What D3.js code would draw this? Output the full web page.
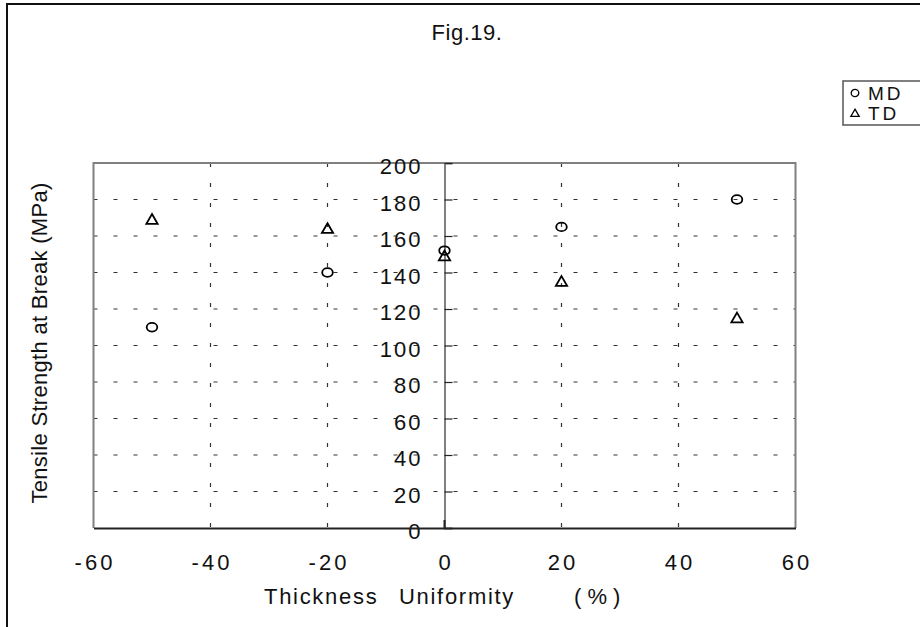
<!DOCTYPE html>
<html>
<head>
<meta charset="utf-8">
<script src="https://cdn.jsdelivr.net/npm/d3@7"></script>
<style>
  html, body { margin: 0; padding: 0; background: #fff; }
  svg { display: block; font-family: "Liberation Sans", Arial, sans-serif; }
</style>
</head>
<body>
<svg id="chart" width="920" height="627"></svg>
<script>
// Thickness uniformity (%) vs tensile strength at break (MPa)
const thickness = [-50, -20, 0, 20, 50];
const mdStrength = [110, 140, 152, 165, 180];
const tdStrength = [169, 164, 149, 135, 115];
const xTicks = [-60, -40, -20, 0, 20, 40, 60];
const yTicks = [0, 20, 40, 60, 80, 100, 120, 140, 160, 180, 200];
const seriesNames = ["MD", "TD"];

const svg = d3.select("#chart");
const W = 920, H = 627;
const plot = { left: 93.5, right: 795.5, top: 163, bottom: 528 };

const x = d3.scaleLinear().domain([-60, 60]).range([plot.left, plot.right]);
const y = d3.scaleLinear().domain([0, 200]).range([plot.bottom, plot.top]);

// outer frame
svg.append("rect")
  .attr("x", 7).attr("y", 4).attr("width", W + 20).attr("height", H + 20)
  .attr("fill", "none").attr("stroke", "#111").attr("stroke-width", 2);

// title
svg.append("text")
  .attr("x", 467).attr("y", 40)
  .attr("text-anchor", "middle")
  .attr("font-size", 22).attr("letter-spacing", 0.5)
  .attr("fill", "#111")
  .text("Fig.19.");

// dashed grid
const g = svg.append("g");
g.selectAll("line.hgrid")
  .data(yTicks.filter(d => d > 0 && d < 200))
  .join("line")
  .attr("class", "hgrid")
  .attr("x1", plot.left).attr("x2", plot.right)
  .attr("y1", d => y(d)).attr("y2", d => y(d))
  .attr("stroke", "#333").attr("stroke-width", 1.2)
  .attr("stroke-dasharray", "4,16");
g.selectAll("line.vgrid")
  .data(xTicks.filter(d => d !== 0 && Math.abs(d) < 60))
  .join("line")
  .attr("class", "vgrid")
  .attr("x1", d => x(d)).attr("x2", d => x(d))
  .attr("y1", plot.top).attr("y2", plot.bottom)
  .attr("stroke", "#333").attr("stroke-width", 1.2)
  .attr("stroke-dasharray", "4,16");

// plot frame
g.append("path")
  .attr("d", `M${plot.left},${plot.bottom}V${plot.top}H${plot.right}V${plot.bottom}`)
  .attr("fill", "none").attr("stroke", "#808080").attr("stroke-width", 2);

// y axis at x = 0
const yAxis = d3.axisRight(y).tickValues(yTicks).tickSize(8).tickFormat("");
const yAxisG = svg.append("g")
  .attr("transform", `translate(${x(0)},0)`)
  .call(yAxis);
yAxisG.select(".domain").attr("stroke", "#808080").attr("stroke-width", 2);
yAxisG.selectAll(".tick line").attr("stroke", "#222").attr("stroke-width", 1.2);

// y tick labels, left of the axis
svg.append("g").selectAll("text")
  .data(yTicks)
  .join("text")
  .attr("x", x(0) - 22)
  .attr("y", d => y(d) + 11)
  .attr("text-anchor", "end")
  .attr("font-size", 22).attr("letter-spacing", 2)
  .attr("fill", "#111")
  .text(d => d);

// x axis along the bottom
const xAxis = d3.axisBottom(x).tickValues(xTicks).tickSize(0).tickPadding(0).tickFormat("");
const xAxisG = svg.append("g")
  .attr("transform", `translate(0,${plot.bottom})`)
  .call(xAxis);
xAxisG.select(".domain").attr("stroke", "#222").attr("stroke-width", 2);

svg.append("line")
  .attr("x1", x(0)).attr("x2", x(0))
  .attr("y1", plot.bottom).attr("y2", plot.bottom - 8)
  .attr("stroke", "#222").attr("stroke-width", 2);

svg.append("g").selectAll("text")
  .data(xTicks)
  .join("text")
  .attr("x", d => x(d) + 1.5)
  .attr("y", 570)
  .attr("text-anchor", "middle")
  .attr("font-size", 22).attr("letter-spacing", 3)
  .attr("fill", "#111")
  .text(d => d < 0 ? "-" + Math.abs(d) : d);

// axis titles
const xt = svg.append("text")
  .attr("y", 604)
  .attr("font-size", 22).attr("letter-spacing", 1.7)
  .attr("fill", "#111");
xt.append("tspan").attr("x", 264).text("Thickness");
xt.append("tspan").attr("x", 399).text("Uniformity");
xt.append("tspan").attr("x", 574).attr("letter-spacing", 0).text("( % )");

svg.append("text")
  .attr("transform", "translate(47,343) rotate(-90)")
  .attr("text-anchor", "middle")
  .attr("font-size", 22).attr("letter-spacing", 0.3)
  .attr("fill", "#111")
  .text("Tensile Strength at Break (MPa)");

// markers
const tri = d3.symbol().type(d3.symbolTriangle).size(55);
const pts = svg.append("g");
pts.selectAll("ellipse")
  .data(thickness.map((t, i) => ({ t, v: mdStrength[i] })))
  .join("ellipse")
  .attr("cx", d => x(d.t)).attr("cy", d => y(d.v))
  .attr("rx", 5.3).attr("ry", 4.3)
  .attr("fill", "none").attr("stroke", "#000").attr("stroke-width", 1.8);
pts.selectAll("path")
  .data(thickness.map((t, i) => ({ t, v: tdStrength[i] })))
  .join("path")
  .attr("d", tri)
  .attr("transform", d => `translate(${x(d.t)},${y(d.v) + 1})`)
  .attr("fill", "none").attr("stroke", "#000").attr("stroke-width", 1.8);

// legend
const lg = svg.append("g");
lg.append("path")
  .attr("d", "M925,81H843V125H925")
  .attr("fill", "none").attr("stroke", "#555").attr("stroke-width", 1.5);
const rows = lg.selectAll("g.row")
  .data(seriesNames)
  .join("g")
  .attr("class", "row")
  .attr("transform", (d, i) => `translate(0,${93 + i * 20})`);
rows.filter((d, i) => i === 0).append("ellipse")
  .attr("cx", 855).attr("cy", 0).attr("rx", 3.8).attr("ry", 3.6)
  .attr("fill", "none").attr("stroke", "#000").attr("stroke-width", 1.3);
rows.filter((d, i) => i === 1).append("path")
  .attr("d", d3.symbol().type(d3.symbolTriangle).size(30))
  .attr("transform", "translate(855,1)")
  .attr("fill", "none").attr("stroke", "#000").attr("stroke-width", 1.3);
rows.append("text")
  .attr("x", 868).attr("y", 7)
  .attr("font-size", 19).attr("letter-spacing", 3)
  .attr("fill", "#111")
  .text(d => d);
</script>
</body>
</html>
